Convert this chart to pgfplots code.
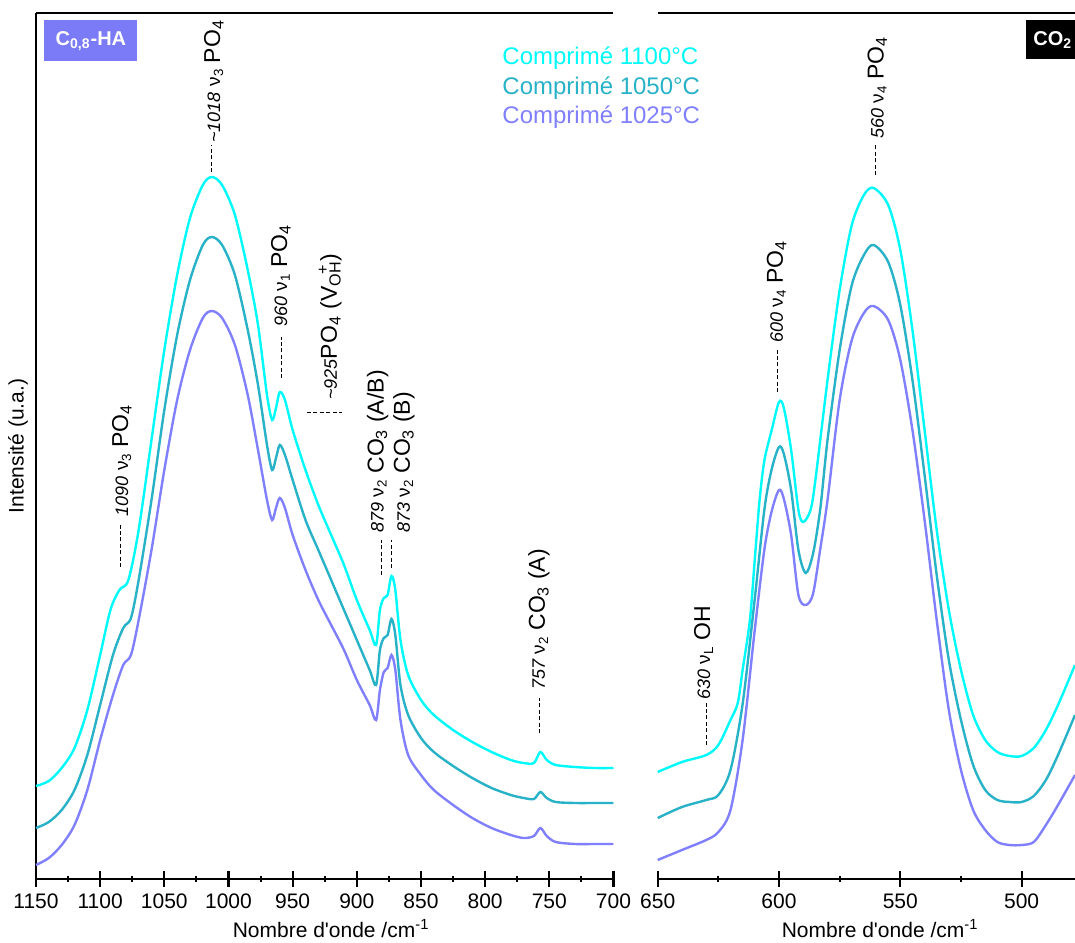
\documentclass[border=0pt]{standalone}
\usepackage{fontspec}
\setmainfont{Liberation Sans}
\usepackage{pgfplots}
\pgfplotsset{compat=1.18}
\definecolor{cA}{RGB}{0,250,250}
\definecolor{cB}{RGB}{40,178,200}
\definecolor{cC}{RGB}{128,128,255}
\definecolor{boxC}{RGB}{123,123,247}
\newcommand{\nm}[1]{{\fontsize{9}{10}\selectfont\itshape #1}}
\newcommand{\nuv}[1]{{\fontsize{9.5}{10}\selectfont ν\textsubscript{#1}}}
\newcommand{\spec}[1]{{\fontsize{11.5}{13}\selectfont #1}}
\pgfplotsset{
  panel/.style={
    scale only axis, height=433pt, x dir=reverse,
    ymin=0, ymax=866, ytick=\empty, xtick pos=bottom,
    separate axis lines,
    x axis line style={line width=1.1pt},
    y axis line style={draw=none},
    tick align=center, major tick length=8pt, minor tick length=3pt,
    major tick style={line width=1.1pt, black},
    minor tick style={line width=1pt, black},
    ticklabel style={font=\fontsize{10.5}{12}\selectfont},
    /pgf/number format/assume math mode=true,
    /pgf/number format/1000 sep={},
    xlabel style={font=\fontsize{10.5}{12}\selectfont, anchor=center},
    clip=false,
    every axis plot/.append style={line width=1.2pt, smooth, tension=0.5, no marks},
  }
}
\begin{document}
\begin{tikzpicture}
\clip (-18pt,-31.5pt) rectangle (519.5pt,439.5pt);
% ---------------- left panel ----------------
\begin{axis}[panel, at={(0pt,0pt)}, anchor=south west, width=288.75pt,
  xmin=700, xmax=1150, xtick={700,750,...,1150}, minor x tick num=1,
  xlabel={Nombre d\textquotesingle onde /cm\textsuperscript{-1}},
  xlabel style={at={(axis description cs:0.511,0)}, yshift=-25pt},
  ylabel={Intensité (u.a.)},
  ylabel style={font=\fontsize{10.5}{12}\selectfont, at={(axis description cs:-0.031,0.5)}, anchor=center},
]
\draw[line width=1.1pt] (rel axis cs:0,0) -- (rel axis cs:0,1);
% 1100
\addplot[cA] coordinates {
(1150,93)(1140,98)(1130,111)(1120,131)(1110,169)(1100,224)(1092,269)(1085,289)(1078,299)
(1070,349)(1060,439)(1050,529)(1040,604)(1030,661)(1020,694)(1013,702)(1005,694)(995,664)
(985,609)(977,554)(970,484)(966,459)(963,471)(960,487)(956,479)(950,449)(940,409)(930,374)
(920,344)(910,314)(900,279)(890,249)(885,234)(882,269)(879,281)(876,284)(873,303)(870,289)
(866,239)(860,204)(850,179)(840,164)(825,149)(810,137)(795,127)(780,119)(770,116)(762,116)
(757,127)(752,119)(745,114)(730,112)(715,111)(700,111)};
% 1050
\addplot[cB] coordinates {
(1150,51)(1140,57)(1130,69)(1120,89)(1110,124)(1100,174)(1090,224)(1082,251)(1076,261)
(1070,299)(1060,379)(1050,469)(1040,544)(1030,599)(1020,634)(1013,642)(1005,634)(995,604)
(985,549)(977,494)(970,434)(966,409)(963,421)(960,434)(956,424)(950,399)(940,359)(930,329)
(920,299)(910,269)(900,239)(890,209)(885,194)(882,229)(879,241)(876,244)(873,260)(870,244)
(866,194)(860,164)(850,141)(840,127)(825,113)(810,101)(795,91)(780,84)(770,81)(762,80)
(757,87)(752,81)(745,77)(730,76)(715,76)(700,76)};
% 1025
\addplot[cC] coordinates {
(1150,14)(1140,21)(1130,34)(1120,54)(1110,89)(1100,139)(1090,184)(1082,214)(1076,224)
(1070,259)(1060,329)(1050,409)(1040,479)(1030,529)(1020,561)(1013,568)(1005,561)(995,534)
(985,484)(977,429)(970,379)(966,359)(963,371)(960,381)(956,371)(950,344)(940,309)(930,279)
(920,254)(910,229)(900,199)(890,174)(885,159)(882,189)(879,207)(876,211)(873,224)(870,209)
(866,159)(860,124)(850,104)(840,89)(825,74)(810,61)(795,51)(780,44)(770,41)(762,43)
(757,51)(752,43)(745,37)(730,35)(715,35)(700,35)};
% box
\node[fill=boxC, text=white, font=\fontsize{10}{12}\selectfont\bfseries, anchor=north west,
  minimum width=46.5pt, minimum height=20.5pt, inner sep=0pt]
  at (rel axis cs:0.0139,0.992) {C\textsubscript{0,8}-HA};
% legend
\node[anchor=west, text=cA, font=\fontsize{12}{14}\selectfont, inner sep=0pt] at (rel axis cs:0.807,0.948) {Comprimé 1100°C};
\node[anchor=west, text=cB, font=\fontsize{12}{14}\selectfont, inner sep=0pt] at (rel axis cs:0.807,0.913) {Comprimé 1050°C};
\node[anchor=west, text=cC, font=\fontsize{12}{14}\selectfont, inner sep=0pt] at (rel axis cs:0.807,0.880) {Comprimé 1025°C};
% annotations
\tikzset{dl/.style={dash pattern=on 2pt off 1.2pt, line width=0.5pt}, an/.style={rotate=90, anchor=base west, inner sep=0pt}}
\draw[dl] (axis cs:1084,312) -- (axis cs:1084,356);
\node[an] at (axis cs:1078.3,362) {\nm{1090} \nuv{3} \spec{PO\textsubscript{4}}};
\draw[dl] (axis cs:1012.9,707) -- (axis cs:1012.9,734);
\node[an] at (axis cs:1006.6,736) {\nm{\textasciitilde1018} \nuv{3} \spec{PO\textsubscript{4}}};
\draw[dl] (axis cs:958.5,501) -- (axis cs:958.5,542);
\node[an] at (axis cs:954.4,552) {\nm{960} \nuv{1} \spec{PO\textsubscript{4}}};
\draw[dl] (axis cs:938.8,466) -- (axis cs:911.6,466);
\node[an] at (axis cs:915.5,479) {\nm{\textasciitilde925}\spec{PO\textsubscript{4} (V\textsubscript{OH}\llap{\textsuperscript{+\,}})}};
\draw[dl] (axis cs:880.6,304) -- (axis cs:880.6,339);
\node[an] at (axis cs:879.2,346) {\nm{879} \nuv{2} \spec{CO\textsubscript{3} (A/B)}};
\draw[dl] (axis cs:872.8,311) -- (axis cs:872.8,339);
\node[an] at (axis cs:858.6,346) {\nm{873} \nuv{2} \spec{CO\textsubscript{3} (B)}};
\draw[dl] (axis cs:758,146) -- (axis cs:758,181);
\node[an] at (axis cs:753.4,189) {\nm{757} \nuv{2} \spec{CO\textsubscript{3} (A)}};
\end{axis}
% ---------------- right panel ----------------
\begin{axis}[panel, at={(310.85pt,0pt)}, anchor=south west, width=208.65pt,
  xmin=478, xmax=650, xtick={500,550,600,650}, minor xtick={525,575,625},
  xlabel={Nombre d\textquotesingle onde /cm\textsuperscript{-1}},
  xlabel style={at={(axis description cs:0.533,0)}, yshift=-25pt},
]
\addplot[cA] coordinates {
(650,107)(640,117)(630,124)(625,134)(620,159)(617,176)(615,209)(612,259)(610,319)(608,379)
(606,419)(603,449)(600,477)(598,471)(595,429)(592,369)(590,357)(587,369)(585,399)(580,499)
(575,589)(570,654)(565,684)(561,691)(555,674)(550,629)(545,549)(540,449)(535,349)(530,269)
(525,209)(520,164)(515,139)(510,127)(505,123)(500,123)(495,131)(490,149)(485,174)(478,214)};
\addplot[cB] coordinates {
(650,61)(640,72)(630,79)(625,84)(620,109)(615,175)(610,280)(606,370)(603,410)(600,432)
(598,425)(595,389)(592,329)(589,306)(586,325)(583,370)(580,439)(575,529)(570,594)(565,624)
(561,634)(555,617)(550,574)(545,499)(540,404)(535,304)(530,219)(525,159)(520,114)(515,89)
(510,79)(505,77)(500,77)(495,83)(490,99)(485,124)(478,164)};
\addplot[cC] coordinates {
(650,19)(640,29)(630,39)(625,47)(620,69)(615,139)(610,249)(606,330)(603,368)(600,389)
(598,380)(595,344)(592,284)(589,274)(586,285)(583,330)(580,379)(575,479)(570,539)(565,566)
(561,573)(555,559)(550,519)(545,449)(540,359)(535,259)(530,169)(525,109)(520,69)(515,49)
(510,37)(505,34)(500,34)(495,37)(490,54)(485,74)(478,104)};
\node[fill=black, text=white, font=\fontsize{10}{12}\selectfont\bfseries, anchor=north west,
  minimum width=40pt, minimum height=19.5pt, inner sep=3.5pt, align=left]
  at (rel axis cs:0.8826,0.992) {CO\textsubscript{2}\hspace{20pt}};
\tikzset{dl/.style={dash pattern=on 2pt off 1.2pt, line width=0.5pt}, an/.style={rotate=90, anchor=base west, inner sep=0pt}}
\draw[dl] (axis cs:629.8,134) -- (axis cs:629.8,176);
\node[an] at (axis cs:628.4,179) {\nm{630} \nuv{L} \spec{OH}};
\draw[dl] (axis cs:600.5,487) -- (axis cs:600.5,529);
\node[an] at (axis cs:598.4,536) {\nm{600} \nuv{4} \spec{PO\textsubscript{4}}};
\draw[dl] (axis cs:560.2,704) -- (axis cs:560.2,734);
\node[an] at (axis cs:556.9,740) {\nm{560} \nuv{4} \spec{PO\textsubscript{4}}};
\end{axis}
\end{tikzpicture}
\end{document}
